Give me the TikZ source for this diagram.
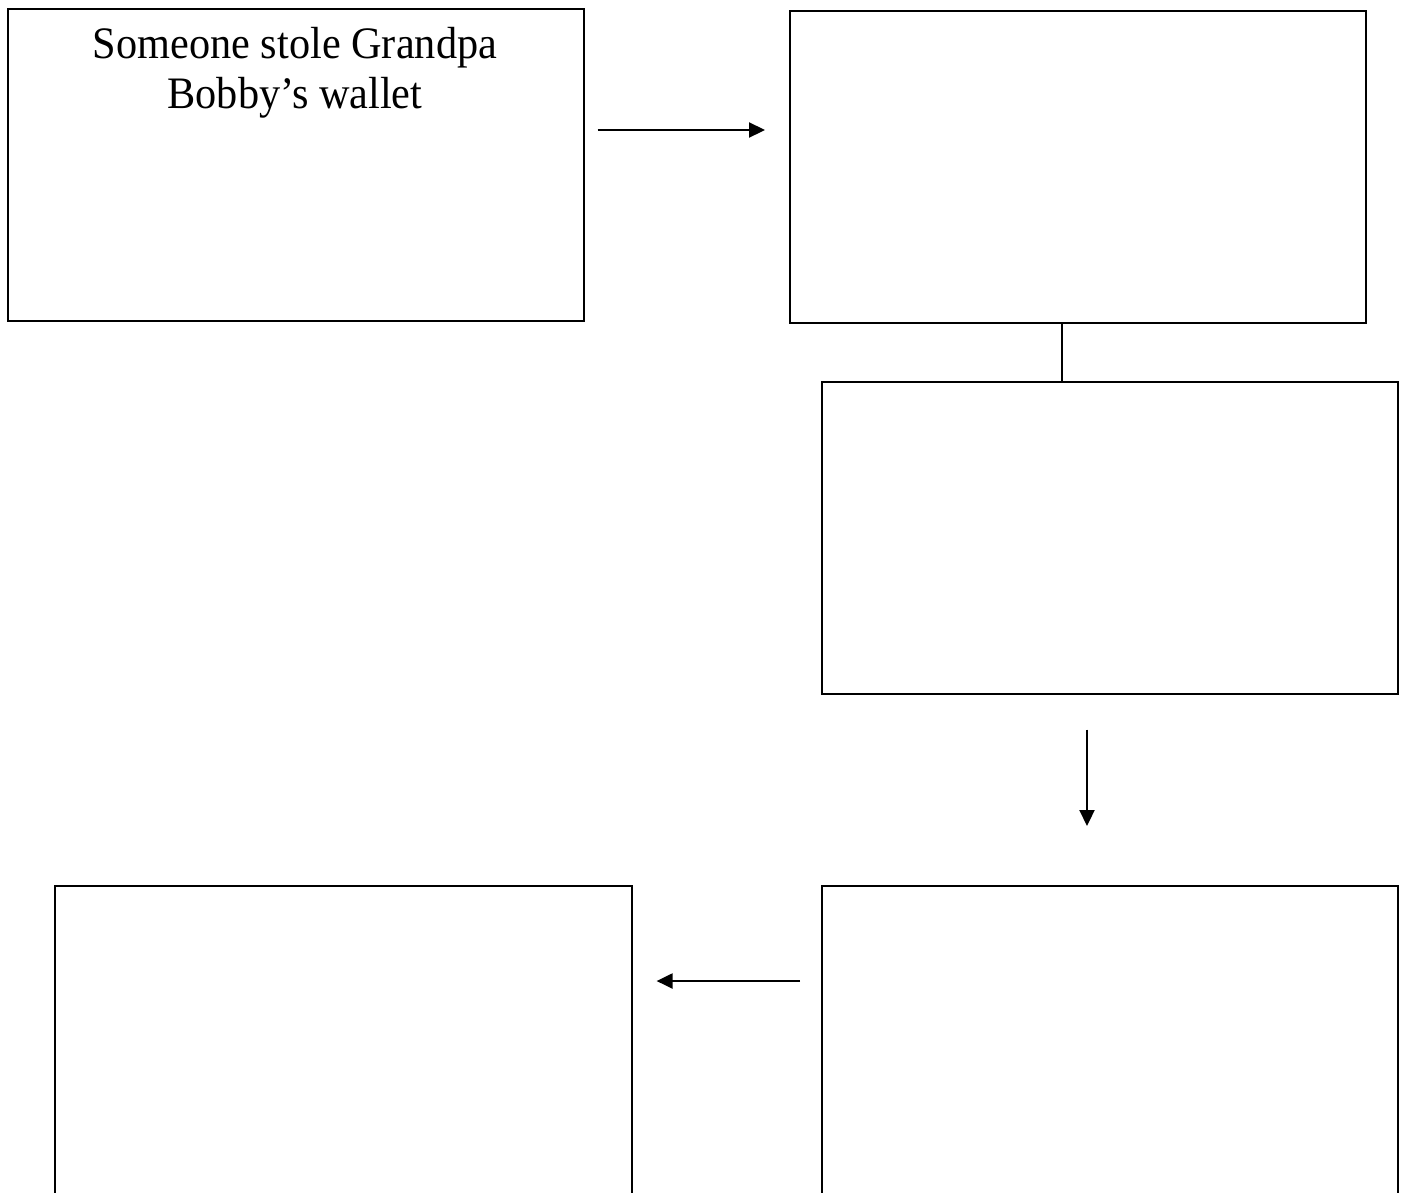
\documentclass[tikz,border=0pt]{standalone}
\usepackage{fontspec}
\setmainfont{Liberation Serif}
\usetikzlibrary{arrows.meta,calc}
\begin{document}
\begin{tikzpicture}[x=1pt,y=-1pt,
  box/.style={draw=black,line width=1.6pt,fill=white,minimum width=576pt,minimum height=312pt,anchor=north west,inner sep=0pt},
  conn/.style={line width=2.2pt,-{Triangle[length=16pt,width=15pt]}},
  plainconn/.style={line width=2.2pt}]
\clip (0,0) rectangle (1403,1192);
\fill[white] (0,0) rectangle (1403,1192);
\node[box] (b1) at (7,8) {};
\node[box] (b2) at (789,10) {};
\node[box] (b3) at (821,381) {};
\node[box] (b4) at (821,885) {};
\node[box,minimum width=577pt] (b5) at (54,885) {};
\node[font=\fontsize{45pt}{50pt}\selectfont,align=center,anchor=north,inner sep=0pt,xscale=0.94,transform shape] (t1) at (295,27) {Someone stole Grandpa\\Bobby’s wallet};
\coordinate (a1s) at ($(b1.north east)+(13,122)$);
\coordinate (a1e) at ($(b2.north west)+(-24,120)$);
\draw[conn] (a1s) -- (a1e);
\draw[plainconn] ($(b2.south west)+(273,0)$) -- ($(b3.north west)+(241,0)$);
\coordinate (a2s) at ($(b3.south west)+(266,35)$);
\coordinate (a2e) at ($(b4.north west)+(266,-59)$);
\draw[conn] (a2s) -- (a2e);
\coordinate (a3s) at ($(b4.north west)+(-21,96)$);
\coordinate (a3e) at ($(b5.north east)+(24,96)$);
\draw[conn] (a3s) -- (a3e);
\end{tikzpicture}
\end{document}
